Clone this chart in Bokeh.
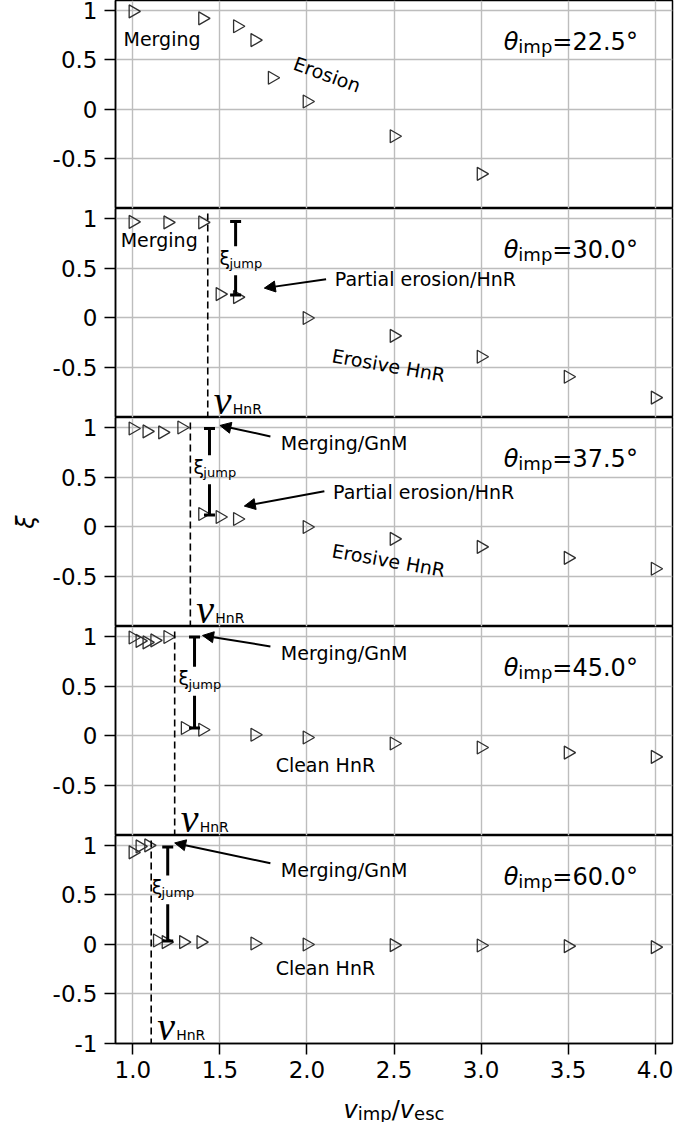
import math
from bokeh.plotting import figure
from bokeh.layouts import column
from bokeh.models import FixedTicker, Arrow, NormalHead
from bokeh.core.properties import value
from bokeh.embed import file_html
from bokeh.resources import INLINE

# ---------------- data ----------------
x_ticks = [1.0, 1.5, 2.0, 2.5, 3.0, 3.5, 4.0]
x_tick_labels = ["1.0", "1.5", "2.0", "2.5", "3.0", "3.5", "4.0"]
y_ticks = [-1.0, -0.5, 0.0, 0.5, 1.0]
y_tick_labels = ["-1", "-0.5", "0", "0.5", "1"]

theta_imp = ["22.5", "30.0", "37.5", "45.0", "60.0"]

v_225 = [1.0, 1.4, 1.6, 1.7, 1.8, 2.0, 2.5, 3.0]
xi_225 = [0.99, 0.92, 0.84, 0.70, 0.32, 0.08, -0.27, -0.65]

v_300 = [1.0, 1.2, 1.4, 1.5, 1.6, 2.0, 2.5, 3.0, 3.5, 4.0]
xi_300 = [0.965, 0.96, 0.96, 0.24, 0.21, 0.0, -0.18, -0.39, -0.59, -0.80]

v_375 = [1.0, 1.08, 1.17, 1.28, 1.4, 1.5, 1.6, 2.0, 2.5, 3.0, 3.5, 4.0]
xi_375 = [0.99, 0.96, 0.95, 1.0, 0.13, 0.10, 0.08, 0.0, -0.12, -0.20, -0.31, -0.42]

v_450 = [1.0, 1.04, 1.08, 1.125, 1.2, 1.3, 1.4, 1.7, 2.0, 2.5, 3.0, 3.5, 4.0]
xi_450 = [0.99, 0.955, 0.94, 0.96, 0.995, 0.08, 0.063, 0.012, -0.015, -0.076, -0.116, -0.167, -0.21]

v_600 = [1.0, 1.04, 1.09, 1.14, 1.19, 1.29, 1.39, 1.7, 2.0, 2.5, 3.0, 3.5, 4.0]
xi_600 = [0.93, 0.99, 1.0, 0.04, 0.024, 0.024, 0.024, 0.01, 0.0, -0.007, -0.01, -0.017, -0.027]

series_v = [v_225, v_300, v_375, v_450, v_600]
series_xi = [xi_225, xi_300, xi_375, xi_450, xi_600]

v_hnr = [None, 1.43, 1.33, 1.24, 1.105]          # threshold velocity (dashed line)
jump_x = [None, 1.59, 1.44, 1.354, 1.20]          # where the jump is marked
jump_top = [None, 0.97, 0.99, 0.995, 0.985]
jump_bottom = [None, 0.23, 0.12, 0.08, 0.034]

# ---------------- layout ----------------
FIG_W = 674
LEFT, RIGHT = 115, 2
X0, X1 = 0.9, 4.1
Y0, Y1 = -1.0, 1.1
FRAME_W = FIG_W - LEFT - RIGHT
FRAME_H = [208, 209, 209, 209, 208]
BOTTOM = 46
XLABEL_H = 1122 - sum(FRAME_H) - BOTTOM
FONT = "DejaVu Sans"

EM = {'0': .636, '1': .636, '2': .636, '3': .636, '4': .636, '5': .636, '6': .636,
      '7': .636, '8': .636, '9': .636, '.': .318, '=': .838, '°': .5, 'i': .278,
      'm': .974, 'p': .635, 'j': .278, 'u': .634, 'v': .592, 'e': .615, 's': .521,
      'c': .550, '/': .337, 'H': .752, 'n': .634, 'R': .695, 'θ': .613, 'ξ': .52}


def tw(s, size):
    return sum(EM.get(c, .6) for c in s) * size


def pxx(px):
    return px * (X1 - X0) / FRAME_W


def pxy(px, h):
    return px * (Y1 - Y0) / h


def txt(p, x, y, s, size, style="normal", font=FONT, align="left", baseline="middle", angle=0.0):
    p.text(x=[x], y=[y], text=[s], text_font=value(font), text_font_size=f"{size}px",
           text_font_style=style, text_align=align, text_baseline=baseline,
           text_color="black", angle=angle)


def arrow(p, xs, ys, xe, ye):
    p.add_layout(Arrow(end=NormalHead(size=11, fill_color="black", line_color="black"),
                       x_start=xs, y_start=ys, x_end=xe, y_end=ye,
                       line_color="black", line_width=2))


figs = []
for i in range(5):
    h = FRAME_H[i]
    bottom = (i == 4)
    p = figure(width=FIG_W, height=h + (BOTTOM if bottom else 0),
               x_range=(X0, X1), y_range=(Y0, Y1),
               output_backend="svg", toolbar_location=None, tools="",
               min_border_left=LEFT, min_border_right=RIGHT,
               min_border_top=0, min_border_bottom=BOTTOM if bottom else 0)
    p.outline_line_color = "black"
    p.outline_line_width = 1.5
    p.background_fill_color = "white"
    p.border_fill_color = "white"

    # grids
    p.xgrid.ticker = FixedTicker(ticks=x_ticks)
    p.ygrid.ticker = FixedTicker(ticks=y_ticks)
    for g in (p.xgrid, p.ygrid):
        g.grid_line_color = "#bdbdbd"
        g.grid_line_width = 1.4

    # y axis
    yt = y_ticks if bottom else y_ticks[1:]
    p.yaxis.ticker = FixedTicker(ticks=yt)
    p.yaxis.major_label_overrides = {t: l for t, l in zip(y_ticks, y_tick_labels)}
    # x axis
    if bottom:
        p.xaxis.ticker = FixedTicker(ticks=x_ticks)
        p.xaxis.major_label_overrides = {t: l for t, l in zip(x_ticks, x_tick_labels)}
    else:
        p.xaxis.visible = False
    for ax in (p.xaxis, p.yaxis):
        ax.axis_line_color = "black"
        ax.axis_line_width = 1.5
        ax.major_tick_line_color = "black"
        ax.major_tick_line_width = 1.5
        ax.major_tick_out = 11
        ax.major_tick_in = 0
        ax.minor_tick_out = 0
        ax.minor_tick_in = 0
        ax.major_label_standoff = 7
        ax.major_label_text_font = FONT
        ax.major_label_text_font_size = "23px"
        ax.major_label_text_color = "black"
    p.xaxis.major_label_standoff = 6

    if i == 2:
        p.yaxis.axis_label = "ξ"
        p.yaxis.axis_label_text_font = FONT
        p.yaxis.axis_label_text_font_size = "24px"
        p.yaxis.axis_label_text_font_style = "italic"
        p.yaxis.axis_label_text_color = "black"
        p.yaxis.axis_label_standoff = 10

    # data markers
    p.scatter(series_v[i], series_xi[i], marker="triangle", angle=-math.pi / 2,
              size=13, fill_color=None, line_color="#2f2f2f", line_width=1.3)

    # theta label (right top)
    tx = 3.13
    ty = 0.685
    main = "=" + theta_imp[i] + "°"
    txt(p, tx, ty, "θ", 24, style="italic", baseline="alphabetic")
    x2 = tx + pxx(tw("θ", 24))
    txt(p, x2, ty - pxy(5, h), "imp", 18, baseline="alphabetic")
    x3 = x2 + pxx(tw("imp", 18))
    txt(p, x3, ty, main, 24, baseline="alphabetic")

    if i > 0:
        vh = v_hnr[i]
        p.segment(x0=[vh], y0=[1.05], x1=[vh], y1=[-1.0], line_color="black",
                  line_width=1.6, line_dash="7 4")
        # v_HnR label
        txt(p, vh + pxx(6), -0.83, "v", 40, style="italic", font="Liberation Serif",
            baseline="alphabetic")
        txt(p, vh + pxx(25), -0.915, "HnR", 14, baseline="alphabetic")

        # xi_jump bracket
        jx = jump_x[i]
        mid = [None, 0.575, 0.575, 0.55, 0.55][i]
        gap = 0.145
        p.segment(x0=[jx, jx], y0=[jump_top[i], mid - gap], x1=[jx, jx],
                  y1=[mid + gap, jump_bottom[i]], line_color="black", line_width=3)
        p.scatter([jx, jx], [jump_top[i], jump_bottom[i]], marker="dash", size=11,
                  line_color="black", line_width=3)
        lx = jx - pxx(16)
        txt(p, lx, mid + 0.03, "ξ", 19)
        txt(p, lx + pxx(tw("ξ", 19)), mid - 0.03, "jump", 13)

    if i == 0:
        txt(p, 0.946, 0.71, "Merging", 19)
        txt(p, 2.116, 0.354, "Erosion", 19, align="center", angle=math.radians(-20))
    if i == 1:
        txt(p, 0.93, 0.78, "Merging", 19)
        arrow(p, 2.11, 0.39, 1.755, 0.30)
        txt(p, 2.16, 0.39, "Partial erosion/HnR", 19)
        txt(p, 2.469, -0.475, "Erosive HnR", 19, align="center", angle=math.radians(-10))
    if i == 2:
        arrow(p, 1.79, 0.91, 1.50, 1.02)
        txt(p, 1.85, 0.84, "Merging/GnM", 19)
        arrow(p, 2.10, 0.36, 1.64, 0.21)
        txt(p, 2.15, 0.35, "Partial erosion/HnR", 19)
        txt(p, 2.469, -0.334, "Erosive HnR", 19, align="center", angle=math.radians(-10))
    if i == 3:
        arrow(p, 1.79, 0.90, 1.40, 1.01)
        txt(p, 1.85, 0.83, "Merging/GnM", 19)
        txt(p, 1.82, -0.29, "Clean HnR", 19)
    if i == 4:
        arrow(p, 1.79, 0.82, 1.24, 1.025)
        txt(p, 1.85, 0.756, "Merging/GnM", 19)
        txt(p, 1.82, -0.24, "Clean HnR", 19)

    figs.append(p)

# ---------------- x-axis label strip: v_imp / v_esc ----------------
q = figure(width=FIG_W, height=XLABEL_H, x_range=(X0, X1), y_range=(0, 1),
           output_backend="svg", toolbar_location=None, tools="",
           min_border_left=LEFT, min_border_right=RIGHT, min_border_top=0, min_border_bottom=0)
q.axis.visible = False
q.grid.visible = False
q.outline_line_color = None
q.background_fill_color = "white"
q.border_fill_color = "white"
parts = [("v", 24, "italic", 0), ("imp", 18, "normal", 4), ("/", 24, "normal", 0),
         ("v", 24, "italic", 0), ("esc", 18, "normal", 4)]
total = sum(tw(s, sz) for s, sz, _, _ in parts)
cx = (X0 + X1) / 2 - pxx(total / 2)
base_px = 20  # baseline distance from the strip top
for s, sz, st, dy in parts:
    txt(q, cx, 1 - (base_px + dy) / XLABEL_H, s, sz, style=st, baseline="alphabetic")
    cx += pxx(tw(s, sz))
figs.append(q)

layout = column(*figs, spacing=0)
open("out.html", "w").write(file_html(layout, INLINE))
